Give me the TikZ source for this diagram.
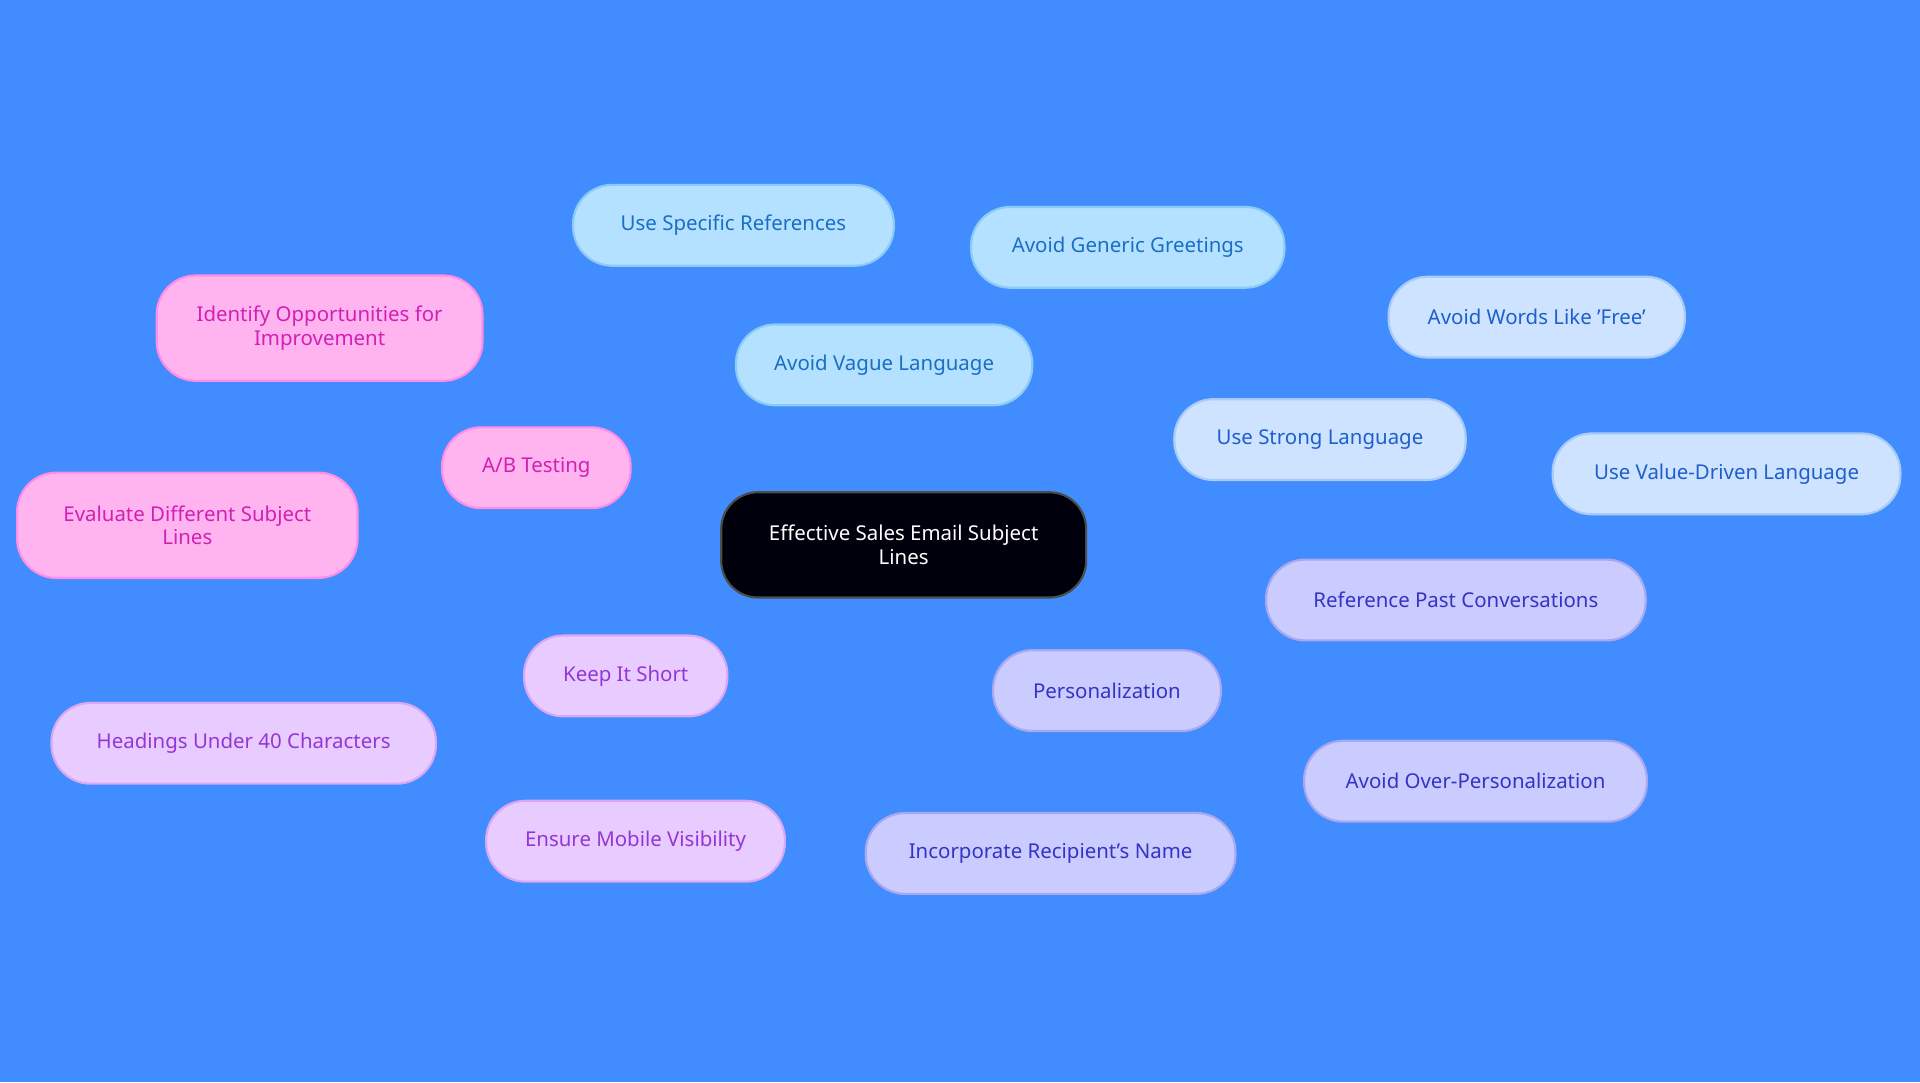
\documentclass[tikz,border=0pt]{standalone}
\usepackage{fontspec}
\setmainfont{Noto Sans}
\usetikzlibrary{calc}
\definecolor{bgblue}{HTML}{418DFF}
\definecolor{blueF}{HTML}{B4E1FF}\definecolor{blueT}{HTML}{1A6FC4}\definecolor{blueD}{HTML}{8CCBF5}
\definecolor{skyF}{HTML}{CDE3FF}\definecolor{skyT}{HTML}{1E5FCC}\definecolor{skyD}{HTML}{A9CCF7}
\definecolor{lavF}{HTML}{CACBFF}\definecolor{lavT}{HTML}{3434C4}\definecolor{lavD}{HTML}{A8A8F0}
\definecolor{purF}{HTML}{E8CBFF}\definecolor{purT}{HTML}{9436D6}\definecolor{purD}{HTML}{D9A8F5}
\definecolor{pinkF}{HTML}{FFB4F0}\definecolor{pinkT}{HTML}{D21FB4}\definecolor{pinkD}{HTML}{FF8CE6}
\pgfdeclarelayer{background}
\pgfsetlayers{background,main}
\tikzset{
   main node/.style={draw,rounded corners=0.64cm,minimum height=1.32cm,align=center,
                     font=\fontsize{9.5}{11}\selectfont,inner sep=2pt},
   root node/.style={main node,fill=black!95!blue,draw=black!70,text=white,rounded corners=0.6cm},
   blue node/.style={main node,fill=blueF,draw=blueD,text=blueT},
   sky node/.style={main node,fill=skyF,draw=skyD,text=skyT},
   lav node/.style={main node,fill=lavF,draw=lavD,text=lavT},
   pur node/.style={main node,fill=purF,draw=purD,text=purT},
   pink node/.style={main node,fill=pinkF,draw=pinkD,text=pinkT},
   w/.style={minimum width=#1*0.02cm}
}
\begin{document}
\begin{tikzpicture}[x=0.02cm,y=-0.02cm,line width=1pt]
\fill[bgblue] (0,0) rectangle (1568,884);
\useasboundingbox (0,0) rectangle (1568,884);
\node[root node,w=298,minimum height=1.72cm] (root) at (738,445) {Effective Sales Email Subject\\Lines};
%
\node[blue node,w=242] (vague) at (722,298) {Avoid Vague Language};
\node[blue node,w=262] (specific) at (599,184) {Use Specific References};
\node[blue node,w=256] (generic) at (921,202) {Avoid Generic Greetings};
%
\node[sky node,w=238] (strong) at (1078,359) {Use Strong Language};
\node[sky node,w=242] (free) at (1255,259) {Avoid Words Like 'Free'};
\node[sky node,w=284] (value) at (1410,387) {Use Value-Driven Language};
%
\node[lav node,w=186] (person) at (904,564) {Personalization};
\node[lav node,w=310] (past) at (1189,490) {Reference Past Conversations};
\node[lav node,w=280] (over) at (1205,638) {Avoid Over-Personalization};
\node[lav node,w=302] (name) at (858,697) {Incorporate Recipient's Name};
%
\node[pur node,w=166] (short) at (511,552) {Keep It Short};
\node[pur node,w=314] (forty) at (199,607) {Headings Under 40 Characters};
\node[pur node,w=244] (mobile) at (519,687) {Ensure Mobile Visibility};
%
\node[pink node,w=154] (ab) at (438,382) {A/B Testing};
\node[pink node,w=266,minimum height=1.72cm] (identify) at (261,268) {Identify Opportunities for\\Improvement};
\node[pink node,w=278,minimum height=1.72cm] (evaluate) at (153,429) {Evaluate Different Subject\\Lines};
%
\begin{pgfonlayer}{background}
\path[draw=blueD] (root) -- (vague) (vague) -- (specific) (vague) -- (generic);
\path[draw=skyD] (root) -- (strong) (strong) -- (free) (strong) -- (value);
\path[draw=lavD] (root) -- (person) (person) -- (past) (person) -- (over) (person) -- (name);
\path[draw=purD] (root) -- (short) (short) -- (forty) (short) -- (mobile);
\path[draw=pinkD] (root) -- (ab) (ab) -- (identify) (ab) -- (evaluate);
\end{pgfonlayer}
\end{tikzpicture}
\end{document}
